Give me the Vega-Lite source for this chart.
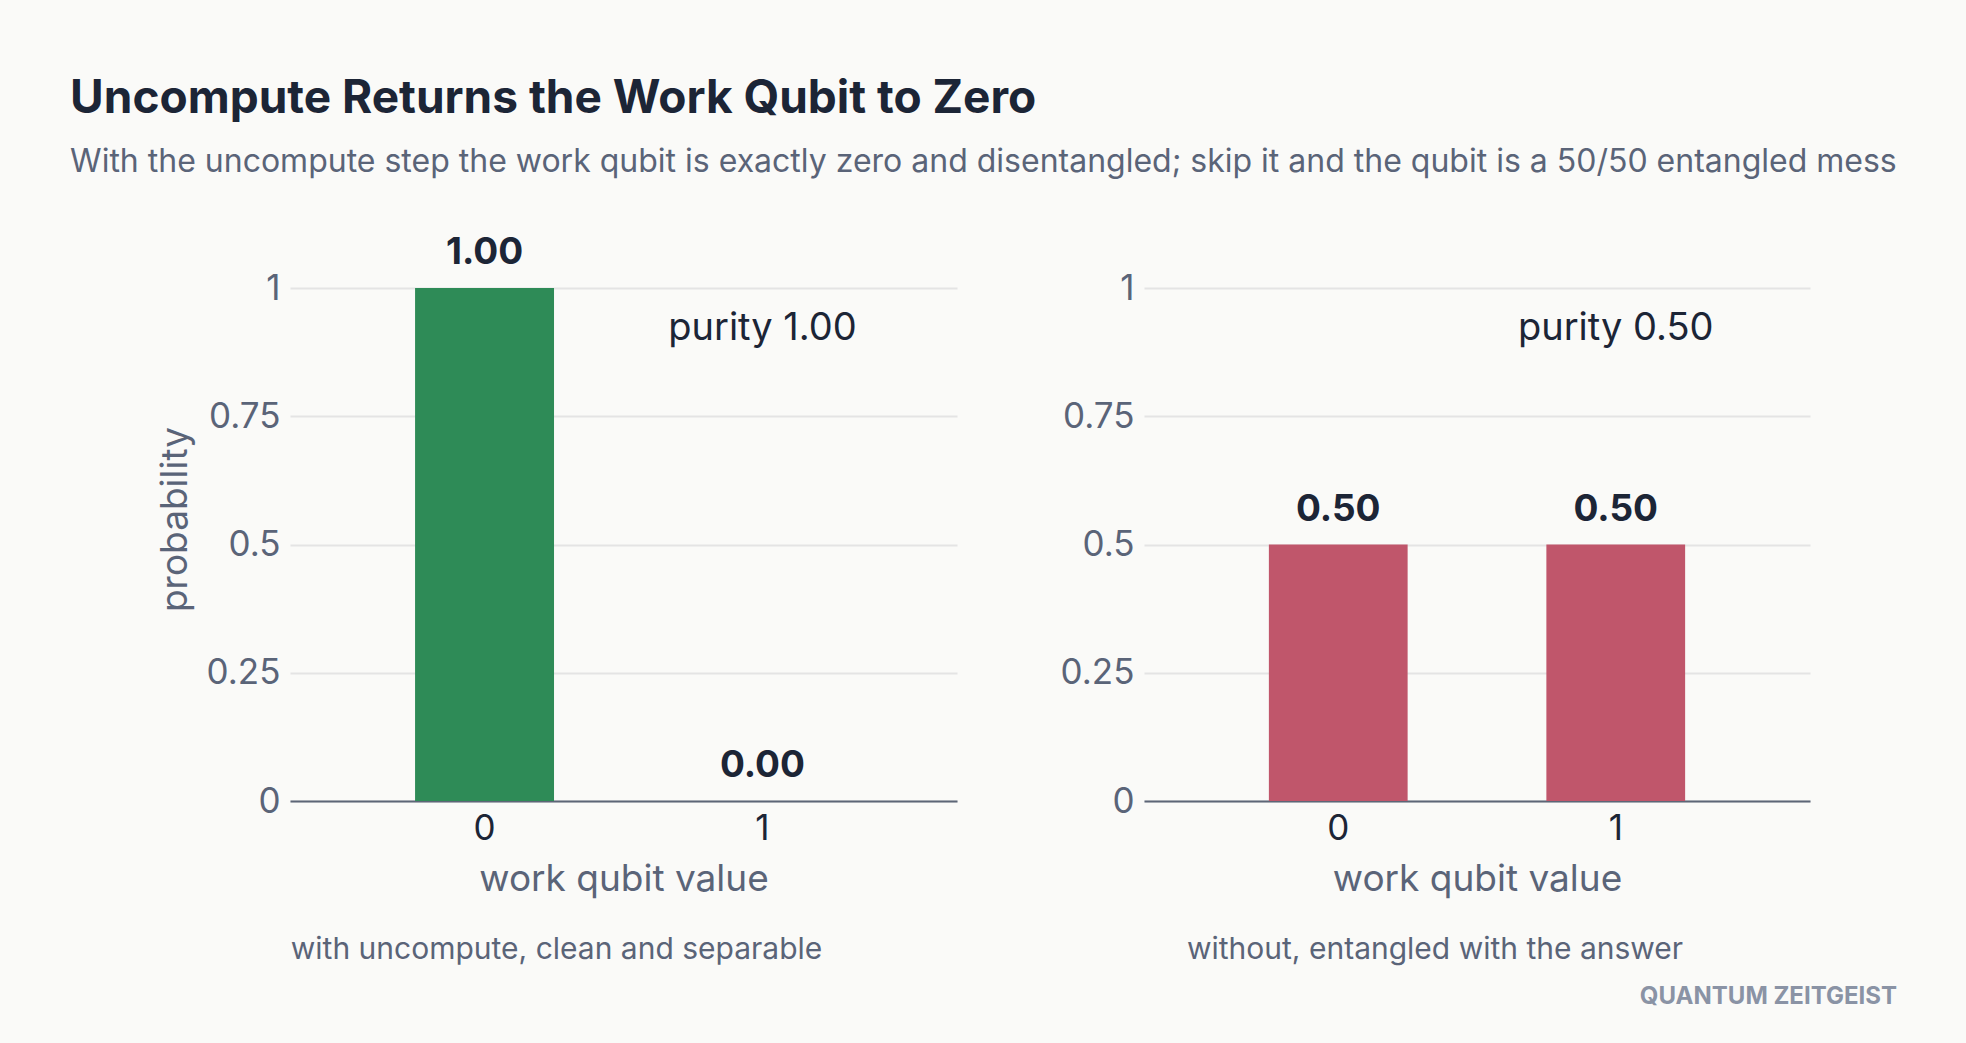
{
  "$schema": "https://vega.github.io/schema/vega-lite/v6.json",
  "background": "#fafaf8",
  "padding": {"left": 70, "top": 76, "right": 70, "bottom": 40},
  "title": {
    "text": "Uncompute Returns the Work Qubit to Zero",
    "subtitle": "With the uncompute step the work qubit is exactly zero and disentangled; skip it and the qubit is a 50/50 entangled mess",
    "anchor": "start",
    "dx": -86,
    "fontSize": 46,
    "fontWeight": "bold",
    "color": "#1c2536",
    "subtitleFontSize": 32,
    "subtitleColor": "#5a6478",
    "subtitlePadding": 24,
    "offset": 55
  },
  "config": {
    "font": "Inter",
    "view": {"stroke": null},
    "axisX": {
      "domainColor": "#5d6677",
      "domainWidth": 2,
      "ticks": false,
      "grid": false,
      "labelAngle": 0,
      "labelColor": "#1c2536",
      "labelFontSize": 35,
      "labelPadding": 10,
      "titleFontSize": 37,
      "titleColor": "#5a6478",
      "titleFontWeight": "normal",
      "titlePadding": 15
    },
    "axisY": {
      "domain": false,
      "ticks": false,
      "grid": true,
      "gridColor": "#e4e4e4",
      "gridWidth": 2,
      "labelColor": "#5a6478",
      "labelFontSize": 35,
      "labelPadding": 10,
      "titleFontSize": 37,
      "titleColor": "#5a6478",
      "titleFontWeight": "normal",
      "titlePadding": 12
    }
  },
  "vconcat": [
    {
      "title": {
        "text": "QUANTUM ZEITGEIST",
        "orient": "bottom",
        "anchor": "end",
        "dx": 87,
        "offset": 20,
        "fontSize": 24,
        "fontWeight": "bold",
        "color": "#8a93a5"
      },
      "spacing": 103,
      "hconcat": [
        {
          "width": 667,
          "height": 513,
          "title": {
            "text": "with uncompute, clean and separable",
            "orient": "bottom",
            "frame": "bounds",
            "fontSize": 30,
            "fontWeight": "normal",
            "color": "#5a6478",
            "offset": 38
          },
          "data": {"values": [{"value": "0", "p": 1.0}, {"value": "1", "p": 0.0}]},
          "layer": [
            {
              "mark": {"type": "bar", "color": "#2e8b57"},
              "encoding": {
                "x": {"field": "value", "type": "nominal", "scale": {"paddingInner": 0.5, "paddingOuter": 0.45}, "axis": {"title": "work qubit value"}},
                "y": {"field": "p", "type": "quantitative", "scale": {"domain": [0, 1], "nice": false}, "axis": {"values": [0, 0.25, 0.5, 0.75, 1], "format": ".2~f", "title": "probability", "titleY": 231}}
              }
            },
            {
              "mark": {"type": "text", "fontWeight": "bold", "fontSize": 37, "dy": -35, "baseline": "middle", "color": "#1c2536"},
              "encoding": {
                "x": {"field": "value", "type": "nominal"},
                "y": {"field": "p", "type": "quantitative"},
                "text": {"field": "p", "type": "quantitative", "format": ".2f"}
              }
            },
            {
              "data": {"values": [{"label": "purity 1.00"}]},
              "mark": {"type": "text", "fontSize": 38, "baseline": "middle", "color": "#1c2536"},
              "encoding": {
                "x": {"datum": "1", "type": "nominal"},
                "y": {"datum": 0.92, "type": "quantitative"},
                "text": {"field": "label", "type": "nominal"}
              }
            }
          ]
        },
        {
          "width": 666,
          "height": 513,
          "title": {
            "text": "without, entangled with the answer",
            "orient": "bottom",
            "frame": "bounds",
            "fontSize": 30,
            "fontWeight": "normal",
            "color": "#5a6478",
            "offset": 38
          },
          "data": {"values": [{"value": "0", "p": 0.5}, {"value": "1", "p": 0.5}]},
          "layer": [
            {
              "mark": {"type": "bar", "color": "#c0566b"},
              "encoding": {
                "x": {"field": "value", "type": "nominal", "scale": {"paddingInner": 0.5, "paddingOuter": 0.45}, "axis": {"title": "work qubit value"}},
                "y": {"field": "p", "type": "quantitative", "scale": {"domain": [0, 1], "nice": false}, "axis": {"values": [0, 0.25, 0.5, 0.75, 1], "format": ".2~f", "title": null}}
              }
            },
            {
              "mark": {"type": "text", "fontWeight": "bold", "fontSize": 37, "dy": -35, "baseline": "middle", "color": "#1c2536"},
              "encoding": {
                "x": {"field": "value", "type": "nominal"},
                "y": {"field": "p", "type": "quantitative"},
                "text": {"field": "p", "type": "quantitative", "format": ".2f"}
              }
            },
            {
              "data": {"values": [{"label": "purity 0.50"}]},
              "mark": {"type": "text", "fontSize": 38, "baseline": "middle", "color": "#1c2536"},
              "encoding": {
                "x": {"datum": "1", "type": "nominal"},
                "y": {"datum": 0.92, "type": "quantitative"},
                "text": {"field": "label", "type": "nominal"}
              }
            }
          ]
        }
      ]
    }
  ]
}
